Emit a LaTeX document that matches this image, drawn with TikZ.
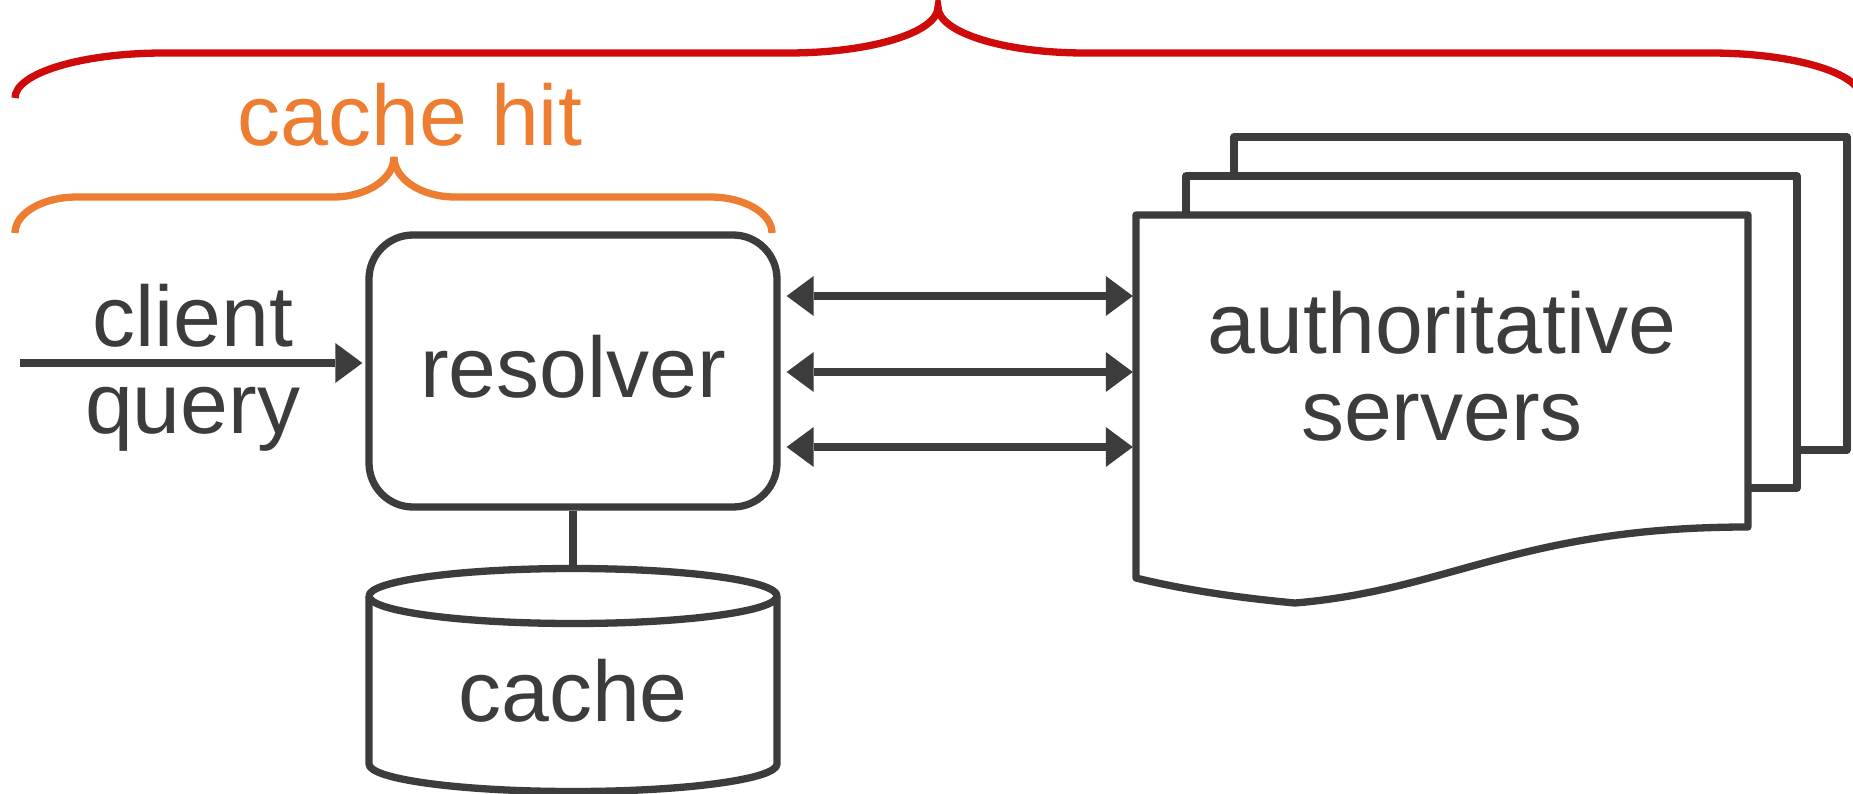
\documentclass[tikz,border=0pt]{standalone}
\usepackage{fontspec}
\setmainfont{Liberation Sans}
\usetikzlibrary{arrows.meta,calc}
\definecolor{ink}{HTML}{3C3C3C}
\definecolor{hitorange}{HTML}{ED7D31}
\definecolor{bracered}{HTML}{CF0A0A}
\tikzset{
  conn/.style={draw=ink,line width=7.3pt},
  arr/.style={conn,-{Triangle[length=27pt,width=40pt,line width=0pt]}},
  dblarr/.style={conn,{Triangle[length=27pt,width=40pt,line width=0pt]}-{Triangle[length=27pt,width=40pt,line width=0pt]}},
  outline/.style={draw=ink,fill=white,line width=7.3pt,line join=round},
  bracestyle/.style={line width=7.3pt},
  lbl/.style={font=\fontsize{86pt}{87pt}\selectfont,text=ink}
}
\begin{document}
\begin{tikzpicture}[x=1pt,y=-1pt]
\useasboundingbox (0,0) rectangle (1853,794);

% red brace
\draw[bracestyle,draw=bracered] (15,98) .. controls (15,73.1) and (81.7,53) .. (164,53) -- (788,53)
  .. controls (870.8,53) and (938,32.4) .. (938,7)
  .. controls (938,32.4) and (1003.8,53) .. (1085,53) -- (1710,53)
  .. controls (1793.4,53) and (1861,73.1) .. (1861,98);

% orange brace
\draw[bracestyle,draw=hitorange] (15,233) .. controls (15,213.1) and (42.8,197) .. (77,197) -- (333,197)
  .. controls (366.7,197) and (394,179.1) .. (394,157)
  .. controls (394,179.1) and (421.3,197) .. (455,197) -- (710,197)
  .. controls (744.2,197) and (772,213.1) .. (772,233);
\node[lbl,text=hitorange,anchor=base] (hit) at (410,146) {cache hit};

% resolver
\node[lbl,outline,rounded corners=44pt,minimum width=408pt,minimum height=272pt,inner sep=0pt,
      text height=62pt,text depth=10pt] (resolver) at (573,371) {resolver};

% authoritative servers stack
\draw[outline] (1234,137) rectangle (1847,450);
\draw[outline] (1186,176) rectangle (1797,488);
\draw[outline] (1136,215) -- (1748,215) -- (1748,527)
  .. controls (1520,527) and (1450,590) .. (1295,603)
  .. controls (1240,598) and (1185,590) .. (1136,578) -- cycle;
\node[lbl,align=center,minimum width=612pt,minimum height=312pt,inner sep=0pt,text depth=11pt]
  (srv) at (1442,371) {authoritative\\servers};

% cache cylinder
\coordinate (cachetop) at (573,568);
\draw[conn] (resolver.south) -- (cachetop);
\draw[outline] (369,596) -- (369,764) .. controls (369,779.2) and (460.3,791.5) .. (573,791.5)
  .. controls (685.7,791.5) and (777,779.2) .. (777,764) -- (777,596);
\draw[outline] (573,596) ellipse [x radius=204pt, y radius=27.5pt];
\node[lbl,anchor=base] (cache) at (573,721) {cache};

% client query
\coordinate (cq) at (20,363);
\draw[arr,shorten >=3pt] (cq) -- node[lbl,anchor=base,yshift=16pt] (cl) {client}
   node[lbl,anchor=base,yshift=-70pt] (qu) {query} ([yshift=8pt]resolver.west);

% resolver <-> servers
\draw[dblarr,shorten <=6pt,shorten >=3pt] ([yshift=75pt]resolver.east) -- ([yshift=75pt]srv.west);
\draw[dblarr,shorten <=6pt,shorten >=3pt] ([yshift=-1pt]resolver.east) -- ([yshift=-1pt]srv.west);
\draw[dblarr,shorten <=6pt,shorten >=3pt] ([yshift=-76pt]resolver.east) -- ([yshift=-76pt]srv.west);
\end{tikzpicture}
\end{document}
